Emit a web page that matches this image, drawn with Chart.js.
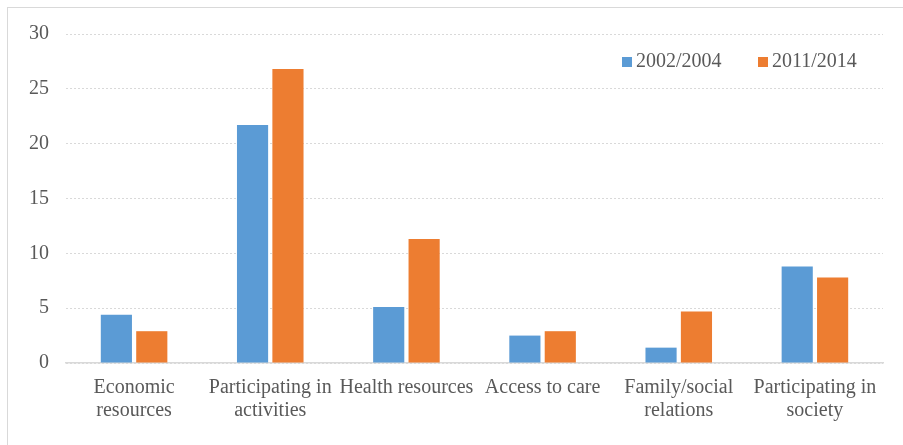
<!DOCTYPE html>
<html>
<head>
<meta charset="utf-8">
<script src="https://cdn.jsdelivr.net/npm/chart.js@4/dist/chart.umd.min.js"></script>
<style>
    body { margin: 0; background: #fff; }
    #caja { position: relative; width: 903px; height: 445px; }
    #marco {
        position: absolute; left: 7px; top: 7px; right: 0; bottom: 0;
        border-left: 1px solid #d9d9d9; border-top: 1px solid #d9d9d9;
    }
</style>
</head>
<body>
<div id="caja">
    <div id="marco"></div>
    <canvas id="graficoBarras" width="903" height="445"></canvas>
</div>
<script>
var categorias = [
    ['Economic', 'resources'],
    ['Participating in', 'activities'],
    'Health resources',
    'Access to care',
    ['Family/social', 'relations'],
    ['Participating in', 'society']
];
var serie2002 = [4.4, 21.7, 5.1, 2.5, 1.4, 8.8];
var serie2011 = [2.9, 26.8, 11.3, 2.9, 4.7, 7.8];
var marcasY = [0, 5, 10, 15, 20, 25, 30];

var fuente = { family: '"Times New Roman", "Liberation Serif", "DejaVu Serif", serif', size: 20, lineHeight: 1.15 };
var gris = '#595959';

// leyenda dentro del area, en una sola fila arriba a la derecha
var leyenda = {
    id: 'leyenda',
    afterDraw: function (chart) {
        var ctx = chart.ctx;
        var x = chart.chartArea.right - 261;
        var y = chart.chartArea.top + 28;
        ctx.save();
        ctx.font = fuente.size + 'px ' + fuente.family;
        ctx.textBaseline = 'middle';
        chart.data.datasets.forEach(function (ds) {
            ctx.fillStyle = ds.backgroundColor;
            ctx.fillRect(x, y - 5, 10, 10);
            ctx.fillStyle = gris;
            ctx.fillText(ds.label, x + 14, y);
            x += 136;
        });
        ctx.restore();
    }
};

new Chart(document.getElementById('graficoBarras'), {
    type: 'bar',
    data: {
        labels: categorias,
        datasets: [{
            label: '2002/2004',
            data: serie2002,
            backgroundColor: '#5b9bd5'
        }, {
            label: '2011/2014',
            data: serie2011,
            backgroundColor: '#ed7d31'
        }]
    },
    plugins: [leyenda],
    options: {
        responsive: false,
        animation: false,
        layout: { padding: { top: 34, right: 20, left: 0, bottom: 0 } },
        datasets: { bar: { barPercentage: 0.88, categoryPercentage: 0.52 } },
        plugins: {
            tooltip: { enabled: false },
            legend: { display: false }
        },
        scales: {
            x: {
                grid: { display: false },
                border: { color: '#d9d9d9', width: 1.5 },
                ticks: { color: gris, font: fuente, padding: 5, maxRotation: 0, autoSkip: false },
                afterFit: function (s) { s.height = 82; }
            },
            y: {
                min: 0,
                max: 30,
                afterBuildTicks: function (s) {
                    s.ticks = marcasY.map(function (v) { return { value: v }; });
                },
                grid: { color: '#d9d9d9', drawTicks: false },
                border: { display: false, dash: [2, 2] },
                ticks: { color: gris, font: fuente, padding: 17 },
                afterFit: function (s) { s.width = 66; }
            }
        }
    }
});
</script>
</body>
</html>
